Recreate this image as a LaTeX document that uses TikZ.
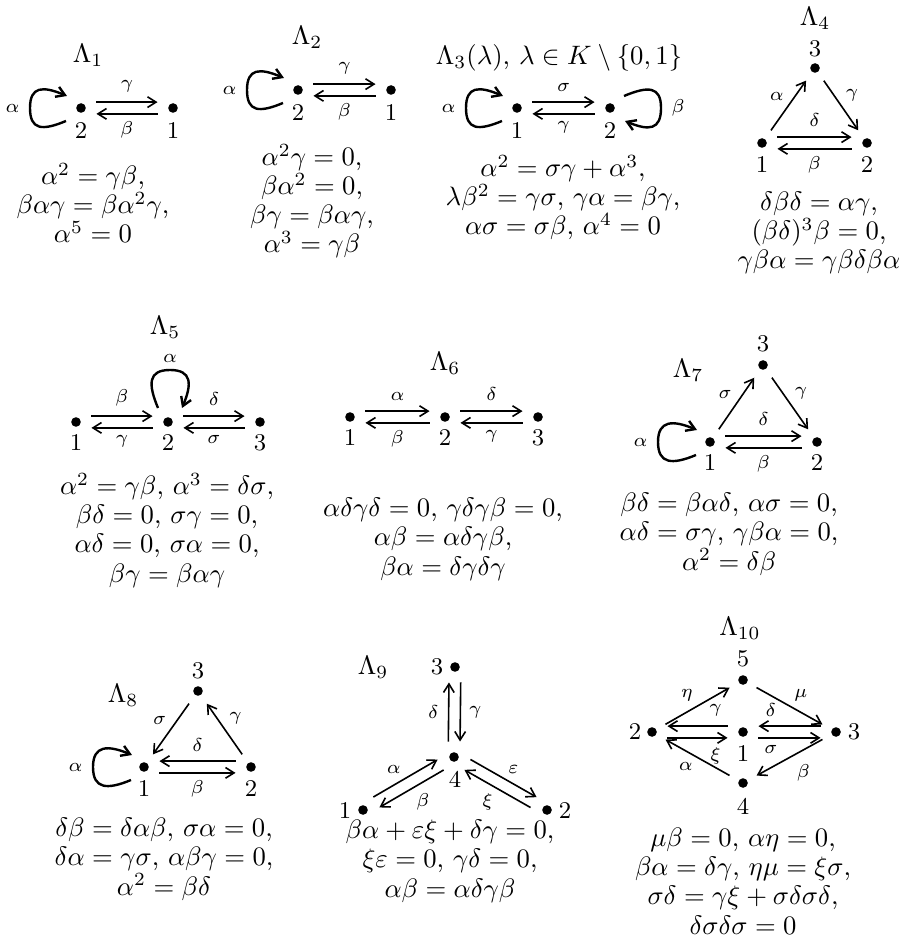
\documentclass[tikz,border=0pt]{standalone}
\usepackage{amsmath,amssymb}
\usepackage{tikz}
\usetikzlibrary{arrows.meta,calc}

\begin{document}
\begin{tikzpicture}[x=0.375pt,y=-0.375pt,>={Straight Barb[length=3.2pt,width=4pt]},
  vtx/.style={circle,fill,inner sep=0pt,minimum size=3.6pt,outer sep=4pt},
  num/.style={font=\small,inner sep=0pt},
  arr/.style={->,line width=0.6pt},
  loopln/.style={->,line width=0.9pt},
  lab/.style={font=\scriptsize,inner sep=1.5pt},
  shiftup/.style={transform canvas={yshift=2.2pt}},
  shiftdn/.style={transform canvas={yshift=-2.2pt}},
  shiftlt/.style={transform canvas={xshift=-2.2pt}},
  shiftrt/.style={transform canvas={xshift=2.2pt}},
  shiftul/.style={transform canvas={xshift=-1.13pt,yshift=1.95pt}},
  shiftdr/.style={transform canvas={xshift=1.13pt,yshift=-1.95pt}},
  shiftur/.style={transform canvas={xshift=1.13pt,yshift=1.95pt}},
  shiftdl/.style={transform canvas={xshift=-1.13pt,yshift=-1.95pt}},
  title/.style={inner sep=0pt},
  rel/.style={align=center,inner sep=0pt,anchor=base,font=\fontsize{10}{10.9}\selectfont}]
\useasboundingbox (0,0) rectangle (898,946);

% Lambda_1
\node[title] (t1) at (88,55) {$\Lambda_1$};
\node[vtx] (a2) at (81,108) {};
\node[vtx] (a1) at (173,108) {};
\node[num] (a2n) at (81,131) {2};
\node[num] (a1n) at (173,131) {1};
\draw[arr,shiftup] (a2) -- node[lab,above=2pt]{$\gamma$} (a1);
\draw[arr,shiftdn] (a1) -- node[lab,below=1pt]{$\beta$} (a2);
\draw[loopln] ($(a2)+(-15,13)$) .. controls +(-24,10) and +(0,22) .. ($(a2)+(-51,0)$) node[lab,left=2pt]{$\alpha$}
  .. controls +(0,-22) and +(-24,-10) .. ($(a2)+(-14,-12)$);
\node[rel] (r1) at (93,243) {$\alpha^2=\gamma\beta$,\\ $\beta\alpha\gamma=\beta\alpha^2\gamma$,\\ $\alpha^5=0$};

% Lambda_2
\node[title] (t2) at (307,37) {$\Lambda_2$};
\node[vtx] (b2) at (298,90) {};
\node[vtx] (b1) at (391,90) {};
\node[num] (b2n) at (298,113) {2};
\node[num] (b1n) at (391,113) {1};
\draw[arr,shiftup] (b2) -- node[lab,above=2pt]{$\gamma$} (b1);
\draw[arr,shiftdn] (b1) -- node[lab,below=1pt]{$\beta$} (b2);
\draw[loopln] ($(b2)+(-15,13)$) .. controls +(-24,10) and +(0,22) .. ($(b2)+(-51,0)$) node[lab,left=2pt]{$\alpha$}
  .. controls +(0,-22) and +(-24,-10) .. ($(b2)+(-14,-12)$);
\node[rel] (r2) at (312,253) {$\alpha^2\gamma=0$,\\ $\beta\alpha^2=0$,\\ $\beta\gamma=\beta\alpha\gamma$,\\ $\alpha^3=\gamma\beta$};

% Lambda_3
\node[title] (t3) at (559,58) {$\Lambda_3(\lambda)$, $\lambda\in K\setminus\{0,1\}$};
\node[vtx] (c1) at (517,108) {};
\node[vtx] (c2) at (610,108) {};
\node[num] (c1n) at (517,131) {1};
\node[num] (c2n) at (610,131) {2};
\draw[arr,shiftup] (c1) -- node[lab,above=2pt]{$\sigma$} (c2);
\draw[arr,shiftdn] (c2) -- node[lab,below=1pt]{$\gamma$} (c1);
\draw[loopln] ($(c1)+(-15,13)$) .. controls +(-24,10) and +(0,22) .. ($(c1)+(-51,0)$) node[lab,left=2pt]{$\alpha$}
  .. controls +(0,-22) and +(-24,-10) .. ($(c1)+(-14,-12)$);
\draw[loopln] ($(c2)+(14,-12)$) .. controls +(24,-10) and +(0,-22) .. ($(c2)+(51,0)$) node[lab,right=2pt]{$\beta$}
  .. controls +(0,22) and +(24,10) .. ($(c2)+(15,13)$);
\node[rel] (r3) at (563,235) {$\alpha^2=\sigma\gamma+\alpha^3$,\\ $\lambda\beta^2=\gamma\sigma$, $\gamma\alpha=\beta\gamma$,\\ $\alpha\sigma=\sigma\beta$, $\alpha^4=0$};

% Lambda_4
\node[title] (t4) at (815,18) {$\Lambda_4$};
\node[vtx] (d3) at (815,68) {};
\node[vtx] (d1) at (762,143) {};
\node[vtx] (d2) at (867,143) {};
\node[num] (d3n) at (815,49) {3};
\node[num] (d1n) at (762,165) {1};
\node[num] (d2n) at (867,165) {2};
\draw[arr] (d1) -- node[lab,above left]{$\alpha$} (d3);
\draw[arr] (d3) -- node[lab,above right]{$\gamma$} (d2);
\draw[arr,shiftup] (d1) -- node[lab,above=2pt]{$\delta$} (d2);
\draw[arr,shiftdn] (d2) -- node[lab,below=1pt]{$\beta$} (d1);
\node[rel] (r4) at (819,269) {$\delta\beta\delta=\alpha\gamma$,\\ $(\beta\delta)^3\beta=0$,\\ $\gamma\beta\alpha=\gamma\beta\delta\beta\alpha$};

% Lambda_5
\node[title] (t5) at (165,327) {$\Lambda_5$};
\node[vtx] (e1) at (76,422) {};
\node[vtx] (e2) at (168,422) {};
\node[vtx] (e3) at (260,422) {};
\node[num] (e1n) at (76,443) {1};
\node[num] (e2n) at (168,443) {2};
\node[num] (e3n) at (260,443) {3};
\draw[arr,shiftup] (e1) -- node[lab,above=2pt]{$\beta$} (e2);
\draw[arr,shiftdn] (e2) -- node[lab,below=1pt]{$\gamma$} (e1);
\draw[arr,shiftup] (e2) -- node[lab,above=2pt]{$\delta$} (e3);
\draw[arr,shiftdn] (e3) -- node[lab,below=1pt]{$\sigma$} (e2);
\draw[loopln] ($(e2)+(-10,-14)$) .. controls +(-10,-24) and +(-22,0) .. ($(e2)+(2,-52)$) node[lab,above=1pt]{$\alpha$}
  .. controls +(22,0) and +(10,-24) .. ($(e2)+(14,-14)$);
\node[rel] (r5) at (167,582) {$\alpha^2=\gamma\beta$, $\alpha^3=\delta\sigma$,\\ $\beta\delta=0$, $\sigma\gamma=0$,\\ $\alpha\delta=0$, $\sigma\alpha=0$,\\ $\beta\gamma=\beta\alpha\gamma$};

% Lambda_6
\node[title] (t6) at (445,363) {$\Lambda_6$};
\node[vtx] (f1) at (350,417) {};
\node[vtx] (f2) at (445,417) {};
\node[vtx] (f3) at (538,417) {};
\node[num] (f1n) at (350,438) {1};
\node[num] (f2n) at (445,438) {2};
\node[num] (f3n) at (538,438) {3};
\draw[arr,shiftup] (f1) -- node[lab,above=2pt]{$\alpha$} (f2);
\draw[arr,shiftdn] (f2) -- node[lab,below=1pt]{$\beta$} (f1);
\draw[arr,shiftup] (f2) -- node[lab,above=2pt]{$\delta$} (f3);
\draw[arr,shiftdn] (f3) -- node[lab,below=1pt]{$\gamma$} (f2);
\node[rel] (r6) at (443,575) {$\alpha\delta\gamma\delta=0$, $\gamma\delta\gamma\beta=0$,\\ $\alpha\beta=\alpha\delta\gamma\beta$,\\ $\beta\alpha=\delta\gamma\delta\gamma$};

% Lambda_7
\node[title] (t7) at (688,370) {$\Lambda_7$};
\node[vtx] (g3) at (763,365) {};
\node[vtx] (g1) at (710,442) {};
\node[vtx] (g2) at (817,442) {};
\node[num] (g3n) at (763,344) {3};
\node[num] (g1n) at (710,463) {1};
\node[num] (g2n) at (817,463) {2};
\draw[arr] (g1) -- node[lab,above left]{$\sigma$} (g3);
\draw[arr] (g3) -- node[lab,above right]{$\gamma$} (g2);
\draw[arr,shiftup] (g1) -- node[lab,above=2pt]{$\delta$} (g2);
\draw[arr,shiftdn] (g2) -- node[lab,below=1pt]{$\beta$} (g1);
\draw[loopln] ($(g1)+(-14,13)$) .. controls +(-24,10) and +(0,22) .. ($(g1)+(-52,0)$) node[lab,left=2pt]{$\alpha$}
  .. controls +(0,-22) and +(-24,-10) .. ($(g1)+(-13,-12)$);
\node[rel] (r7) at (729,570) {$\beta\delta=\beta\alpha\delta$, $\alpha\sigma=0$,\\ $\alpha\delta=\sigma\gamma$, $\gamma\beta\alpha=0$,\\ $\alpha^2=\delta\beta$};

% Lambda_8
\node[title] (t8) at (123,695) {$\Lambda_8$};
\node[vtx] (h3) at (198,691) {};
\node[vtx] (h1) at (144,767) {};
\node[vtx] (h2) at (251,767) {};
\node[num] (h3n) at (198,671) {3};
\node[num] (h1n) at (144,788) {1};
\node[num] (h2n) at (251,788) {2};
\draw[arr] (h3) -- node[lab,above left]{$\sigma$} (h1);
\draw[arr] (h2) -- node[lab,above right]{$\gamma$} (h3);
\draw[arr,shiftup] (h2) -- node[lab,above=2pt]{$\delta$} (h1);
\draw[arr,shiftdn] (h1) -- node[lab,below=1pt]{$\beta$} (h2);
\draw[loopln] ($(h1)+(-13,13)$) .. controls +(-24,10) and +(0,22) .. ($(h1)+(-51,0)$) node[lab,left=2pt]{$\alpha$}
  .. controls +(0,-22) and +(-24,-10) .. ($(h1)+(-12,-12)$);
\node[rel] (r8) at (164,895) {$\delta\beta=\delta\alpha\beta$, $\sigma\alpha=0$,\\ $\delta\alpha=\gamma\sigma$, $\alpha\beta\gamma=0$,\\ $\alpha^2=\beta\delta$};

% Lambda_9
\node[title] (t9) at (373,667) {$\Lambda_9$};
\node[vtx] (i3) at (455,667) {};
\node[vtx] (i4) at (454,757) {};
\node[vtx] (i1) at (363,810) {};
\node[vtx] (i2) at (547,810) {};
\node[num] (i3n) at (437,667) {3};
\node[num] (i4n) at (455,779) {4};
\node[num] (i1n) at (345,810) {1};
\node[num] (i2n) at (565,810) {2};
\draw[arr,shiftlt] (i4) -- node[lab,left=2pt]{$\delta$} (i3);
\draw[arr,shiftrt] (i3) -- node[lab,right=1.5pt]{$\gamma$} (i4);
\draw[arr,shiftul] (i1) -- node[lab,above left]{$\alpha$} (i4);
\draw[arr,shiftdr] (i4) -- node[lab,below right]{$\beta$} (i1);
\draw[arr,shiftur] (i4) -- node[lab,above right]{$\varepsilon$} (i2);
\draw[arr,shiftdl] (i2) -- node[lab,below left]{$\xi$} (i4);
\node[rel] (r9) at (450,897) {$\beta\alpha+\varepsilon\xi+\delta\gamma=0$,\\ $\xi\varepsilon=0$, $\gamma\delta=0$,\\ $\alpha\beta=\alpha\delta\gamma\beta$};

% Lambda_10
\node[title] (t10) at (740,628) {$\Lambda_{10}$};
\node[vtx] (j5) at (743,680) {};
\node[vtx] (j2) at (652,732) {};
\node[vtx] (j1) at (743,732) {};
\node[vtx] (j3) at (836,732) {};
\node[vtx] (j4) at (743,783) {};
\node[num] (j5n) at (743,659) {5};
\node[num] (j2n) at (635,732) {2};
\node[num] (j1n) at (743,754) {1};
\node[num] (j3n) at (854,732) {3};
\node[num] (j4n) at (743,806) {4};
\draw[arr] (j2) -- node[lab,above left]{$\eta$} (j5);
\draw[arr] (j5) -- node[lab,above right]{$\mu$} (j3);
\draw[arr,shiftup] (j1) -- node[lab,pos=0.2,above=2pt]{$\gamma$} (j2);
\draw[arr,shiftdn] (j2) -- node[lab,pos=0.8,below=2pt]{$\xi$} (j1);
\draw[arr,shiftup] (j3) -- node[lab,pos=0.8,above=2pt]{$\delta$} (j1);
\draw[arr,shiftdn] (j1) -- node[lab,pos=0.2,below=1pt]{$\sigma$} (j3);
\draw[arr] (j4) -- node[lab,below left]{$\alpha$} (j2);
\draw[arr] (j3) -- node[lab,below right=1pt]{$\beta$} (j4);
\node[rel] (r10) at (743,934) {$\mu\beta=0$, $\alpha\eta=0$,\\ $\beta\alpha=\delta\gamma$, $\eta\mu=\xi\sigma$,\\ $\sigma\delta=\gamma\xi+\sigma\delta\sigma\delta$,\\ $\delta\sigma\delta\sigma=0$};
\end{tikzpicture}
\end{document}
